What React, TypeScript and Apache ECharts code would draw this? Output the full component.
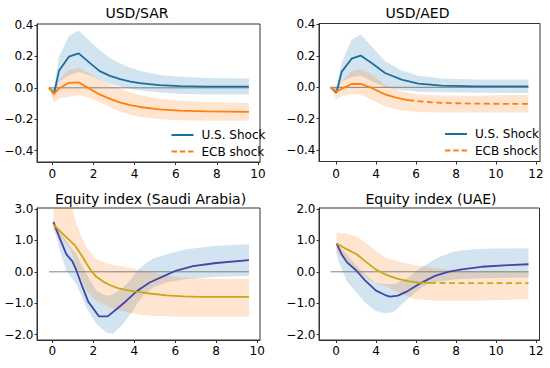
import React, { useEffect, useRef } from 'react';
import * as echarts from 'echarts';

type P = [number, number];
type B = [number, number, number];

const panelTitles = ['USD/SAR', 'USD/AED', 'Equity index (Saudi Arabia)', 'Equity index (UAE)'];
const legendNames = ['U.S. Shock', 'ECB shock'];

const xTickValues = [0, 2, 4, 6, 8, 10];
const sarXLabels = ['0', '2', '4', '6', '8', '10'];
const aedXLabels = ['0', '4', '6', '8', '10', '12'];
const fxYTickValues = [-0.4, -0.2, 0, 0.2, 0.4];
const fxYLabels = ['−0.4', '−0.2', '0.0', '0.2', '0.4'];
const eqYTickValues = [-2, -1, 0, 1, 2];
const saudiYLabels = ['−2.0', '−1.0', '0.0', '1.0', '3.0'];
const uaeYLabels = ['−2.0', '−1.0', '0.0', '1.0', '2.0'];

// USD/SAR
const sarUsLine: P[] = [[-0.16, 0], [0.08, -0.035], [0.32, 0.108], [0.8, 0.198], [1.28, 0.219], [1.8, 0.16], [2.3, 0.106], [2.8, 0.076], [3.3, 0.055], [3.8, 0.04], [4.25, 0.03], [5.2, 0.017], [6.2, 0.011], [7.5, 0.008], [9.56, 0.008]];
const sarEcbLine: P[] = [[-0.16, 0], [0.08, -0.038], [0.32, -0.004], [0.8, 0.032], [1.28, 0.034], [1.8, -0.005], [2.3, -0.042], [2.8, -0.07], [3.3, -0.094], [3.8, -0.11], [4.25, -0.122], [5.2, -0.137], [6.2, -0.145], [7.5, -0.15], [9.56, -0.153]];
const sarUsBand: B[] = [[-0.16, 0, 0], [0.08, -0.065, 0.0], [0.32, 0.04, 0.2], [0.8, 0.08, 0.33], [1.28, 0.1, 0.365], [1.8, 0.08, 0.3], [2.3, 0.05, 0.24], [2.8, 0.026, 0.19], [3.3, 0.006, 0.155], [3.8, -0.006, 0.128], [4.25, -0.015, 0.108], [5.2, -0.03, 0.082], [6.2, -0.038, 0.07], [7.5, -0.042, 0.063], [9.56, -0.043, 0.06]];
const sarEcbBand: B[] = [[-0.16, 0, 0], [0.08, -0.095, -0.01], [0.32, -0.07, 0.05], [0.8, -0.057, 0.113], [1.28, -0.047, 0.128], [1.8, -0.062, 0.092], [2.3, -0.092, 0.052], [2.8, -0.123, 0.022], [3.3, -0.152, -0.006], [3.8, -0.172, -0.03], [4.25, -0.186, -0.046], [5.2, -0.2, -0.068], [6.2, -0.207, -0.08], [7.5, -0.21, -0.09], [9.56, -0.21, -0.096]];
const sarZero: P[] = [[-0.16, 0], [9.56, 0]];

// USD/AED
const aedUsLine: P[] = [[-0.27, 0], [0.02, -0.033], [0.28, 0.098], [0.78, 0.182], [1.23, 0.202], [1.78, 0.155], [2.45, 0.091], [3.28, 0.049], [4.12, 0.024], [5.28, 0.011], [6.95, 0.006], [9.62, 0.006]];
const aedEcbLine: P[] = [[-0.27, 0], [0.02, -0.026], [0.28, -0.01], [0.78, 0.021], [1.23, 0.022], [1.78, -0.004], [2.45, -0.045], [3.0, -0.066], [3.6, -0.082]];
const aedEcbDash: P[] = [[3.6, -0.082], [4.7, -0.095], [5.8, -0.101], [7.0, -0.104], [9.62, -0.106]];
const aedUsBand: B[] = [[-0.27, 0, 0], [0.02, -0.047, 0.0], [0.28, 0.035, 0.155], [0.78, 0.066, 0.304], [1.23, 0.074, 0.336], [1.78, 0.038, 0.262], [2.45, 0.002, 0.166], [3.28, -0.019, 0.108], [4.12, -0.028, 0.074], [5.28, -0.032, 0.056], [6.95, -0.035, 0.05], [9.62, -0.036, 0.049]];
const aedEcbBand: B[] = [[-0.27, 0, 0], [0.02, -0.079, -0.004], [0.28, -0.057, 0.038], [0.78, -0.043, 0.1], [1.23, -0.047, 0.117], [1.78, -0.079, 0.081], [2.45, -0.121, 0.017], [3.28, -0.147, -0.026], [4.12, -0.157, -0.045], [5.28, -0.16, -0.052], [6.95, -0.16, -0.053], [9.62, -0.16, -0.047]];
const aedZero: P[] = [[-0.27, 0], [9.62, 0]];

// Equity index (Saudi Arabia)
const saudiUsLine: P[] = [[0.05, 1.59], [0.36, 1.07], [0.68, 0.56], [0.98, 0.33], [1.17, 0.05], [1.45, -0.45], [1.75, -0.95], [2.28, -1.42], [2.7, -1.42], [3.13, -1.19], [3.62, -0.92], [4.1, -0.63], [4.75, -0.34], [5.57, -0.1], [6.06, 0.04], [6.87, 0.18], [8.0, 0.28], [9.6, 0.37]];
const saudiEcbLine: P[] = [[0.05, 1.5], [0.6, 1.15], [1.09, 0.85], [1.4, 0.55], [1.66, 0.27], [1.9, 0.03], [2.15, -0.16], [2.5, -0.32], [2.8, -0.42], [3.2, -0.52], [3.62, -0.58], [4.2, -0.64], [4.75, -0.69], [5.57, -0.75], [6.4, -0.78], [7.2, -0.8], [9.6, -0.8]];
const saudiUsBand: B[] = [[0.05, 1.45, 1.62], [0.11, 1.3, 1.55], [0.36, 0.7, 1.3], [0.68, 0.03, 0.99], [1.17, -0.39, 0.56], [1.66, -1.13, -0.07], [2.15, -1.66, -0.6], [2.64, -1.93, -0.76], [2.96, -1.98, -0.72], [3.45, -1.66, -0.5], [3.62, -1.5, -0.39], [3.94, -1.24, -0.15], [4.1, -1.05, 0.01], [4.43, -0.76, 0.2], [4.75, -0.58, 0.35], [4.92, -0.5, 0.42], [5.57, -0.34, 0.56], [6.55, -0.23, 0.72], [8.0, -0.16, 0.83], [9.6, -0.13, 0.88]];
const saudiEcbBand: B[] = [[0.05, 1.3, 2.4], [0.6, 0.95, 2.4], [0.9, 0.72, 2.2], [1.17, 0.14, 1.52], [1.66, -0.6, 0.77], [2.15, -0.92, 0.4], [2.8, -1.13, 0.24], [3.62, -1.29, 0.14], [4.27, -1.36, 0.05], [4.75, -1.4, 0.0], [5.2, -1.41, -0.07], [6.2, -1.43, -0.18], [7.85, -1.43, -0.23], [9.6, -1.43, -0.23]];
const saudiZero: P[] = [[-0.16, 0], [9.6, 0]];

// Equity index (UAE)
const uaeUsLine: P[] = [[0.03, 0.9], [0.28, 0.56], [0.55, 0.3], [1.0, 0.05], [1.45, -0.27], [2.0, -0.6], [2.45, -0.74], [2.7, -0.79], [3.1, -0.76], [3.5, -0.64], [4.2, -0.37], [4.95, -0.13], [5.6, 0.0], [6.28, 0.08], [7.28, 0.16], [8.62, 0.21], [9.62, 0.24]];
const uaeEcbLine: P[] = [[0.03, 0.9], [0.53, 0.72], [1.03, 0.56], [1.53, 0.3], [2.0, 0.07], [2.45, -0.08], [3.05, -0.22], [3.6, -0.3], [4.1, -0.34], [4.7, -0.35]];
const uaeEcbDash: P[] = [[4.7, -0.35], [6.0, -0.36], [7.5, -0.36], [9.62, -0.36]];
const uaeUsBand: B[] = [[0.03, 0.6, 0.9], [0.12, 0.35, 0.85], [0.53, -0.29, 0.56], [0.95, -0.6, 0.24], [1.45, -0.98, -0.07], [1.95, -1.24, -0.34], [2.45, -1.33, -0.39], [2.78, -1.29, -0.4], [2.95, -1.25, -0.39], [3.28, -1.03, -0.28], [3.62, -0.85, -0.18], [3.95, -0.66, 0.0], [4.28, -0.5, 0.14], [4.62, -0.39, 0.28], [4.95, -0.34, 0.4], [5.28, -0.29, 0.5], [5.78, -0.26, 0.62], [6.28, -0.23, 0.68], [6.95, -0.21, 0.72], [7.78, -0.2, 0.74], [9.62, -0.18, 0.75]];
const uaeEcbBand: B[] = [[0.03, 0.62, 1.25], [0.53, 0.3, 1.22], [1.12, -0.02, 1.09], [1.78, -0.29, 0.77], [2.45, -0.45, 0.45], [3.28, -0.71, 0.3], [3.95, -0.87, 0.22], [4.95, -0.92, 0.12], [6.0, -0.92, 0.05], [6.95, -0.92, 0.02], [9.62, -0.87, 0.0]];
const uaeZero: P[] = [[-0.27, 0], [9.62, 0]];

const FONT = '"DejaVu Sans", "Liberation Sans", sans-serif';
const C_US = '#1b6fa0';
const C_ECB = '#ff7f0e';
const C_BAND_US = '#1f77b4';
const C_BAND_ECB = '#ff7f0e';
const C_EQ_US = '#4444aa';
const C_EQ_ECB = '#c8a818';

const grids = [
  { left: 37, top: 24, width: 223, height: 138 },
  { left: 319, top: 23.5, width: 221, height: 138 },
  { left: 37, top: 208, width: 223, height: 132 },
  { left: 319, top: 208, width: 220.5, height: 132 },
];
const xRanges = [[-0.75, 10.1], [-0.85, 10.2], [-0.75, 10.14], [-0.85, 10.17]];
const yRanges = [[-0.472, 0.406], [-0.472, 0.406], [-2.17, 2.03], [-2.17, 2.03]];
const xLabelSets = [sarXLabels, aedXLabels, sarXLabels, aedXLabels];
const yTickSets = [fxYTickValues, fxYTickValues, eqYTickValues, eqYTickValues];
const yLabelSets = [fxYLabels, fxYLabels, saudiYLabels, uaeYLabels];
const titlePos = [[137, 13], [417.5, 13], [150.5, 199], [431, 199]];

const lookup = (vals: number[], labels: string[]) => (v: number) => {
  const i = vals.findIndex((t) => Math.abs(t - v) < 1e-9);
  return i >= 0 ? labels[i] : '';
};

const band = (i: number, data: B[], color: string) => ({
  type: 'custom',
  name: 'band' + i + color,
  xAxisIndex: i,
  yAxisIndex: i,
  clip: true,
  silent: true,
  z: 1,
  data: data,
  encode: { x: 0, y: [1, 2] },
  renderItem: (params: any, api: any) => {
    if (params.dataIndex !== 0) return null;
    const upper = data.map((d) => api.coord([d[0], d[2]]));
    const lower = data.map((d) => api.coord([d[0], d[1]])).reverse();
    return {
      type: 'polygon',
      shape: { points: upper.concat(lower) },
      style: { fill: color, opacity: 0.2 },
    };
  },
});

const line = (i: number, name: string, data: P[], color: string, dashed = false, width = 1.8, z = 3) => ({
  type: 'line',
  name,
  xAxisIndex: i,
  yAxisIndex: i,
  data,
  symbol: 'none',
  showSymbol: false,
  silent: true,
  clip: true,
  z,
  itemStyle: { color },
  lineStyle: { color, width, type: dashed ? [6, 3.5] : 'solid' },
});

const solidIcon = 'path://M0,0h22v2h-22z';
const dashIcon = 'path://M0,0h5.5v2h-5.5z M8.25,0h5.5v2h-5.5z M16.5,0h5.5v2h-5.5z';

const legendFor = (left: number, top: number) => ({
  left,
  top,
  orient: 'vertical',
  itemWidth: 22,
  itemHeight: 12,
  itemGap: 4.5,
  padding: 0,
  selectedMode: false,
  textStyle: { fontSize: 12, color: '#000', fontFamily: FONT, padding: [0, 0, 0, 3] },
  data: [
    { name: legendNames[0], icon: solidIcon, itemStyle: { color: C_US, borderWidth: 0 } },
    { name: legendNames[1], icon: dashIcon, itemStyle: { color: C_ECB, borderWidth: 0 } },
  ],
});

export default function App() {
  const ref = useRef<HTMLDivElement>(null);
  useEffect(() => {
    if (!ref.current) return;
    const chart = echarts.init(ref.current, null, { renderer: 'svg' });
    const option: any = {
      animation: false,
      backgroundColor: '#fff',
      grid: grids.map((g) => ({ ...g, show: true, borderColor: '#333', borderWidth: 1, backgroundColor: 'transparent' })),
      xAxis: grids.map((_, i) => ({
        type: 'value',
        gridIndex: i,
        min: xRanges[i][0],
        max: xRanges[i][1],
        splitLine: { show: false },
        axisLine: { show: true, onZero: false, lineStyle: { color: '#333', width: 1 } },
        axisTick: { show: true, length: 3, customValues: xTickValues, lineStyle: { color: '#333' } },
        axisLabel: {
          customValues: xTickValues,
          formatter: lookup(xTickValues, xLabelSets[i]),
          fontSize: 12,
          color: '#000',
          fontFamily: FONT,
          margin: i < 2 ? 6 : 5,
        },
      })),
      yAxis: grids.map((_, i) => ({
        type: 'value',
        gridIndex: i,
        min: yRanges[i][0],
        max: yRanges[i][1],
        splitLine: { show: false },
        axisLine: { show: true, onZero: false, lineStyle: { color: '#333', width: 1 } },
        axisTick: { show: true, length: 2.5, customValues: yTickSets[i], lineStyle: { color: '#333' } },
        axisLabel: {
          customValues: yTickSets[i],
          formatter: lookup(yTickSets[i], yLabelSets[i]),
          fontSize: 12,
          color: '#000',
          fontFamily: FONT,
          margin: 3.5,
        },
      })),
      legend: [legendFor(171.5, 129), legendFor(445, 128)],
      graphic: panelTitles.map((t, i) => ({
        type: 'text',
        x: titlePos[i][0],
        y: titlePos[i][1],
        silent: true,
        style: {
          text: t,
          fontSize: 14,
          fontFamily: FONT,
          fill: '#000',
          align: 'center',
          verticalAlign: 'middle',
          textAlign: 'center',
          textVerticalAlign: 'middle',
        },
      })),
      series: [
        band(0, sarUsBand, C_BAND_US),
        band(0, sarEcbBand, C_BAND_ECB),
        line(0, 'zero0', sarZero, '#808080', false, 1, 2),
        line(0, legendNames[0], sarUsLine, C_US),
        line(0, legendNames[1], sarEcbLine, C_ECB),

        band(1, aedUsBand, C_BAND_US),
        band(1, aedEcbBand, C_BAND_ECB),
        line(1, 'zero1', aedZero, '#808080', false, 1, 2),
        line(1, legendNames[0], aedUsLine, C_US),
        line(1, legendNames[1], aedEcbLine, C_ECB),
        line(1, 'aedDash', aedEcbDash, C_ECB, true),

        band(2, saudiUsBand, C_BAND_US),
        band(2, saudiEcbBand, C_BAND_ECB),
        line(2, 'zero2', saudiZero, '#808080', false, 1, 2),
        line(2, 'saudiUs', saudiUsLine, C_EQ_US),
        line(2, 'saudiEcb', saudiEcbLine, C_EQ_ECB),

        band(3, uaeUsBand, C_BAND_US),
        band(3, uaeEcbBand, C_BAND_ECB),
        line(3, 'zero3', uaeZero, '#808080', false, 1, 2),
        line(3, 'uaeUs', uaeUsLine, C_EQ_US),
        line(3, 'uaeEcb', uaeEcbLine, C_EQ_ECB),
        line(3, 'uaeDash', uaeEcbDash, C_EQ_ECB, true),
      ],
    };
    chart.setOption(option);
    return () => chart.dispose();
  }, []);
  return <div ref={ref} style={{ position: 'fixed', left: 0, top: 0, width: 550, height: 368 }} />;
}
